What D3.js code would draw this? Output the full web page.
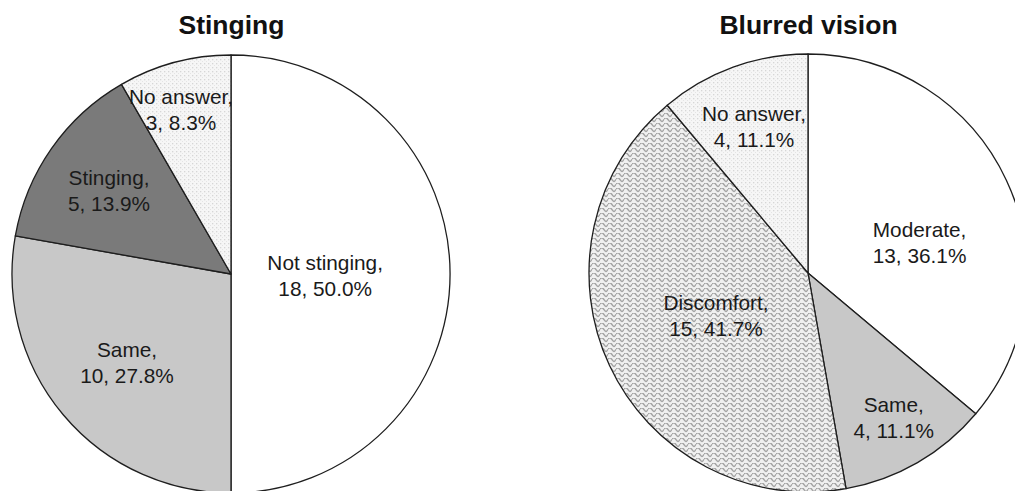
<!DOCTYPE html>
<html><head><meta charset="utf-8">
<script src="https://cdn.jsdelivr.net/npm/d3@7"></script>
<style>html,body{margin:0;padding:0;background:#fff;overflow:hidden}</style>
</head><body>
<svg id="chart" width="1015" height="491"></svg>
<script>
// Data
const titles = ["Stinging", "Blurred vision"];
const stingingCategories = ["Not stinging", "Same", "Stinging", "No answer"];
const stingingValues = [18, 10, 5, 3];
const stingingPercents = ["50.0%", "27.8%", "13.9%", "8.3%"];
const blurredCategories = ["Moderate", "Same", "Discomfort", "No answer"];
const blurredValues = [13, 4, 15, 4];
const blurredPercents = ["36.1%", "11.1%", "41.7%", "11.1%"];

const svg = d3.select("#chart");
const defs = svg.append("defs");

// dotted pattern
const pd = defs.append("pattern").attr("id","dots").attr("patternUnits","userSpaceOnUse")
  .attr("width",4).attr("height",4);
pd.append("rect").attr("width",4).attr("height",4).attr("fill","#f6f6f6");
pd.append("rect").attr("x",1).attr("y",1).attr("width",1.3).attr("height",1.3).attr("fill","#d6d6d6");
pd.append("rect").attr("x",3).attr("y",3).attr("width",1).attr("height",1).attr("fill","#e4e4e4");

// wavy pattern
const pw = defs.append("pattern").attr("id","wave").attr("patternUnits","userSpaceOnUse")
  .attr("width",8).attr("height",5);
pw.append("rect").attr("width",8).attr("height",5).attr("fill","#f0f0f0");
pw.append("path").attr("d","M0,1.2 C1.5,-0.8 2.5,-0.8 4,1.7 C5.5,4.2 6.5,4.2 8,1.2")
  .attr("fill","none").attr("stroke","#a4a4a4").attr("stroke-width",1.4);

const fillsA = ["#ffffff", "#c8c8c8", "#7a7a7a", "url(#dots)"];
const fillsB = ["#ffffff", "#c8c8c8", "url(#wave)", "url(#dots)"];

const R = 219;
const charts = [
  {title: titles[0], cats: stingingCategories, vals: stingingValues, pcts: stingingPercents, fills: fillsA,
   cx: 231, cy: 274, labelK: [0.43, 0.62, 0.68, 0.79], labelDA: [0, 0, 0, -1.8]},
  {title: titles[1], cats: blurredCategories, vals: blurredValues, pcts: blurredPercents, fills: fillsB,
   cx: 808, cy: 273, labelK: [0.53, 0.76, 0.46, 0.72], labelDA: [9, -1, 1, 0]}
];

const pie = d3.pie().sort(null).value(d => d);
const arc = d3.arc().innerRadius(0).outerRadius(R);

charts.forEach(c => {
  const g = svg.append("g").attr("transform", `translate(${c.cx},${c.cy})`);
  const arcs = pie(c.vals);
  g.selectAll("path.slice").data(arcs).join("path")
    .attr("class","slice")
    .attr("d", arc)
    .attr("fill", (d,i) => c.fills[i])
    .attr("stroke", "#1e1e1e")
    .attr("stroke-width", 1.3)
    .attr("stroke-linejoin","round");

  arcs.forEach((d,i) => {
    const a = (d.startAngle + d.endAngle)/2 + c.labelDA[i]*Math.PI/180;
    const rr = c.labelK[i]*R;
    const x = Math.sin(a)*rr, y = -Math.cos(a)*rr;
    const t = g.append("text")
      .attr("text-anchor","middle")
      .attr("font-family","'Liberation Sans', Arial, sans-serif")
      .attr("font-size", 20.8)
      .attr("fill","#1a1a1a");
    t.append("tspan").attr("x", x).attr("y", y - 4).text(c.cats[i] + ",");
    t.append("tspan").attr("x", x).attr("y", y + 22).text(c.vals[i] + ", " + c.pcts[i]);
  });

  svg.append("text")
    .attr("x", c.cx + 0.5).attr("y", 34)
    .attr("text-anchor","middle")
    .attr("font-family","'Liberation Sans', Arial, sans-serif")
    .attr("font-weight","bold")
    .attr("font-size", 26.5)
    .attr("fill","#111")
    .text(c.title);
});
</script>
</body></html>
